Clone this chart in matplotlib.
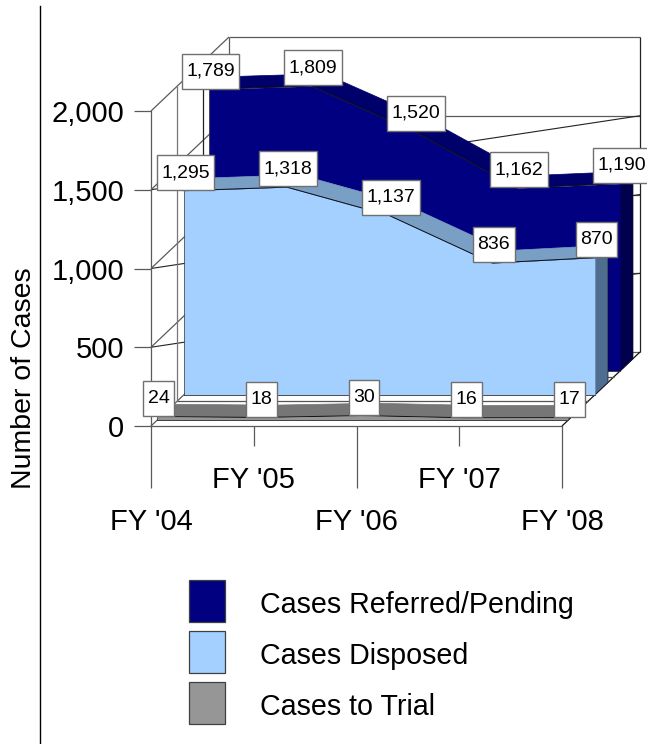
import matplotlib
matplotlib.use("Agg")
import matplotlib.pyplot as plt
import numpy as np
from matplotlib.lines import Line2D
from matplotlib.patches import Patch, Polygon
from matplotlib.path import Path

# ---- data ----
years_major = ["FY '04", "FY '06", "FY '08"]
years_minor = ["FY '05", "FY '07"]
referred = [1789, 1809, 1520, 1162, 1190]
disposed = [1295, 1318, 1137, 836, 870]
trial = [24, 18, 30, 16, 17]
y_ticks = [0, 500, 1000, 1500, 2000]
y_labels = ["0", "500", "1,000", "1,500", "2,000"]
legend_names = ["Cases Referred/Pending", "Cases Disposed", "Cases to Trial"]

# ---- style / layout ----
W, H = 647, 744
L, R, T, B = 151, 562, 111, 426   # front plane of the plot, in pixels
WALL_DEPTH = 78
LAYER_DEPTH = 13
DEPTH_Y = 74 / 78                 # vertical pixels per horizontal pixel of depth
GRID = "#5a5a5a"
PX = 72 / 100                     # points per pixel at dpi 100
FONT = 21
LABEL_FONT = 14
LEGEND_FONT = 20.6
plt.rcParams["font.family"] = ["Liberation Sans", "DejaVu Sans"]

fig = plt.figure(figsize=(W / 100, H / 100), dpi=100, facecolor="white")
ax = fig.add_axes([L / W, 1 - B / H, (R - L) / W, (B - T) / H])
ax.patch.set_visible(False)
ax.set_xlim(0, 4)
ax.set_ylim(0, 2000)

xunit = 4 / (R - L)      # data units per pixel
yunit = 2000 / (B - T)


def proj(x, v, depth):
    """Oblique projection: a point `depth` pixels behind the front plane."""
    return (np.asarray(x, float) + depth * xunit,
            np.asarray(v, float) + depth * DEPTH_Y * yunit)


def seg(x0, v0, d0, x1, v1, d1, color=GRID, lw=0.9, z=1):
    a = proj(x0, v0, d0)
    b = proj(x1, v1, d1)
    ax.add_line(Line2D([a[0], b[0]], [a[1], b[1]], color=color, lw=lw, zorder=z,
                       clip_on=False, solid_capstyle="butt"))


# ---- walls and grid ----
for v in y_ticks:
    seg(0, v, 0, 0, v, WALL_DEPTH)                 # side wall
    seg(0, v, WALL_DEPTH, 4, v, WALL_DEPTH)        # back wall
for v in y_ticks[1:-1]:
    seg(0, v, 0, 4, v, WALL_DEPTH, color="#222222", lw=0.8)
seg(0, 0, WALL_DEPTH, 0, 2000, WALL_DEPTH)
seg(4, 0, WALL_DEPTH, 4, 2000, WALL_DEPTH, color="#222222")
seg(4, 0, 0, 4, 0, WALL_DEPTH, color="#111111")
for d, c in ((26, "#777777"), (52, "#222222")):
    seg(0, 0, d, 0, 2000, d, color=c)
    seg(0, 0, d, 4, 0, d, color="#555555")

# ---- series, back to front ----
xs = np.arange(5)
layers = [
    (referred, 58, "#000080", "#00006A", "#00004D"),
    (disposed, 33, "#A3D0FF", "#7A9FC4", "#4F6D8F"),
    (trial, 6, "#969696", "#767676", "#5A5A5A"),
]
for z, (vals, d, front, top, side) in enumerate(layers, start=2):
    vals = np.array(vals, float)
    fx, fy = proj(xs, vals, d)
    bx, by = proj(xs, vals, d + LAYER_DEPTH)
    zero_fx, zero_fy = proj(xs, 0 * vals, d)
    zero_bx, zero_by = proj(xs, 0 * vals, d + LAYER_DEPTH)
    # side panel at the last year
    ax.add_patch(Polygon([(fx[-1], fy[-1]), (bx[-1], by[-1]), (zero_bx[-1], zero_by[-1]),
                          (zero_fx[-1], zero_fy[-1])], fc=side, ec="#101030", lw=0.5,
                         zorder=z, clip_on=False))
    # top surface
    ax.add_patch(Polygon(np.r_[np.c_[fx, fy], np.c_[bx, by][::-1]], fc=top, ec=top, lw=0.5,
                         zorder=z, clip_on=False))
    # front face
    ax.fill_between(fx, zero_fy, fy, color=front, lw=0, zorder=z + 0.1, clip_on=False)
    ax.plot(fx, fy, color="#101010", lw=0.7, zorder=z + 0.2, clip_on=False)
    ax.plot(fx, zero_fy, color="#303030", lw=0.6, zorder=z + 0.2, clip_on=False)
    ax.plot([fx[0], fx[0]], [zero_fy[0], fy[0]], color="#303030", lw=0.5, zorder=z + 0.2,
            clip_on=False)


def label_box(x0, y0, w, h, size):
    """White label box with a fixed height, as in the original."""
    cy = y0 + h / 2
    px, ph = 4.5, 17.5
    return Path([(x0 - px, cy - ph), (x0 + w + px, cy - ph), (x0 + w + px, cy + ph),
                 (x0 - px, cy + ph), (x0 - px, cy - ph)], closed=True)


for vals, d, front, top, side in layers:
    lx, ly = proj(xs, vals, d + LAYER_DEPTH / 2)
    for x, y, v in zip(lx, ly, vals):
        ax.annotate(f"{v:,}", (x, y), xytext=(-5 * PX, 12 * PX),
                    textcoords="offset points", ha="center", va="center",
                    fontsize=LABEL_FONT, color="black", zorder=10, annotation_clip=False,
                    bbox=dict(boxstyle=label_box, fc="white", ec="#707070", lw=1.0))

# ---- axes ----
for s in ("top", "right"):
    ax.spines[s].set_visible(False)
for s in ("left", "bottom"):
    ax.spines[s].set_color(GRID)
    ax.spines[s].set_linewidth(0.9)
    ax.spines[s].set_zorder(1)

ax.set_yticks(y_ticks, y_labels, fontsize=FONT)
ax.tick_params(axis="y", length=17 * PX, width=0.9, color=GRID, pad=10 * PX)
ax.set_xticks([0, 2, 4], years_major, fontsize=FONT)
ax.set_xticks([1, 3], years_minor, minor=True, fontsize=FONT)
ax.tick_params(axis="x", which="major", length=62 * PX, width=0.9, color=GRID, pad=20 * PX)
ax.tick_params(axis="x", which="minor", length=20 * PX, width=0.9, color=GRID, pad=20 * PX)
ax.set_ylabel("Number of Cases", fontsize=20.5, va="center", ha="center")
ax.yaxis.set_label_coords((24 - L) / (R - L), (B - 378) / (B - T))

# ---- legend ----
fs_px = LEGEND_FONT / PX
swatch_h = 42 / fs_px
handles = [Patch(fc=layers[i][2], ec="#404040", lw=0.9) for i in range(3)]
leg = fig.legend(handles, legend_names, loc="upper left", bbox_to_anchor=(189 / W, 1 - 580 / H),
                 frameon=False, fontsize=LEGEND_FONT, borderpad=0, borderaxespad=0,
                 handlelength=36 / fs_px, handleheight=(swatch_h - 0.245) / 0.65,
                 labelspacing=9 / fs_px, handletextpad=35 / fs_px)
for t in leg.get_texts():
    t.set_y(-3)

fig.add_artist(Line2D([40 / W, 40 / W], [1 - 6 / H, 0], transform=fig.transFigure,
                      color="black", lw=1.0))

fig.savefig("out.png", dpi=100)
